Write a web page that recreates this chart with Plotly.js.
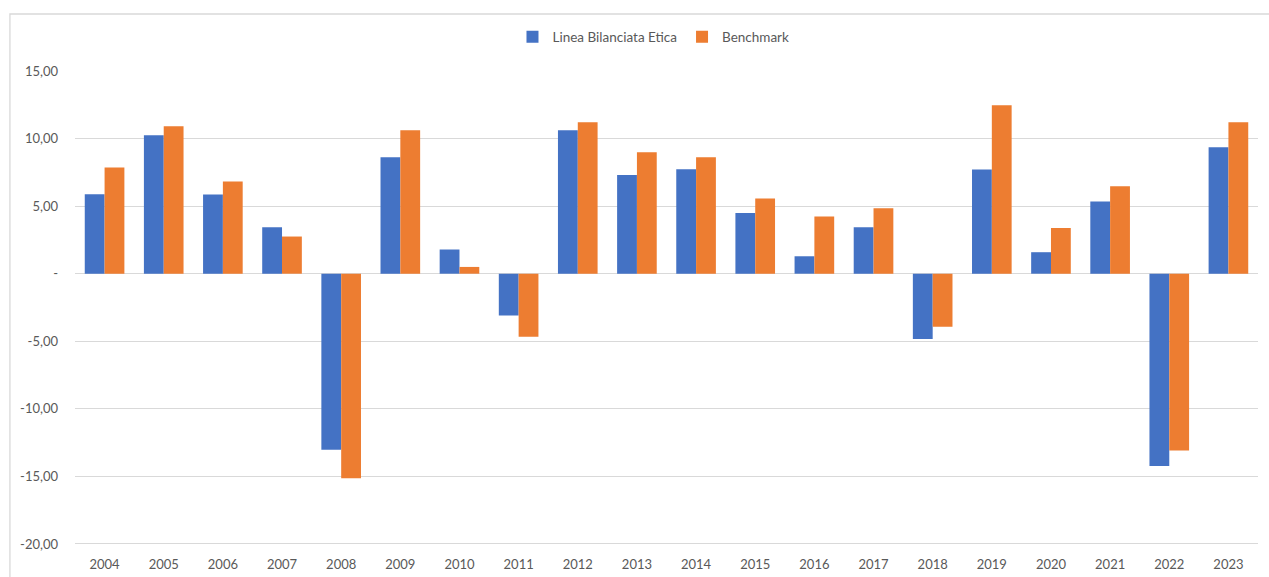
<!DOCTYPE html>
<html>
<head>
<meta charset="utf-8">
<script src="https://cdn.plot.ly/plotly-3.0.1.min.js"></script>
<style>html,body{margin:0;padding:0;background:#fff;}#chart{width:1269px;height:577px;}</style>
</head>
<body>
<div id="chart"></div>
<script>
const years = ['2004','2005','2006','2007','2008','2009','2010','2011','2012','2013','2014','2015','2016','2017','2018','2019','2020','2021','2022','2023'];
const lineaEtica = [5.88,10.24,5.86,3.44,-13.03,8.62,1.79,-3.09,10.61,7.31,7.73,4.50,1.29,3.44,-4.84,7.71,1.59,5.34,-14.24,9.36];
const benchmark = [7.85,10.91,6.82,2.75,-15.13,10.61,0.50,-4.67,11.21,8.99,8.62,5.56,4.23,4.84,-3.93,12.46,3.39,6.47,-13.08,11.21];
const seriesNames = ['Linea Bilanciata Etica','Benchmark'];
const yTickVals = [-20,-15,-10,-5,0,5,10,15];
const yTickText = ['-20,00','-15,00','-10,00','-5,00','-','5,00','10,00','15,00'];

const font = "Lato, 'Open Sans', sans-serif";
const traces = [
  {type:'bar', name:seriesNames[0], x:years, y:lineaEtica, marker:{color:'#4472C4'}},
  {type:'bar', name:seriesNames[1], x:years, y:benchmark, marker:{color:'#ED7D31'}}
];
const plotH = 577 - 71 - 29;
const layout = {
  width:1269, height:577,
  margin:{l:75, r:11, t:71, b:29, pad:0},
  paper_bgcolor:'#fff', plot_bgcolor:'#fff',
  font:{family:font, size:13, color:'#595959'},
  barmode:'group', bargap:0.33, bargroupgap:0,
  showlegend:true,
  legend:{orientation:'h', x:0.489, xanchor:'center', y:(577-29-37)/plotH, yanchor:'middle', font:{size:13.5, color:'#595959'}, itemwidth:30, traceorder:'normal'},
  xaxis:{type:'category', showgrid:false, zeroline:false, showline:false, ticks:'', ticklabelstandoff:7, tickfont:{size:13, color:'#595959'}},
  yaxis:{range:[-20.3,15], tickvals:yTickVals, ticktext:yTickText, showgrid:true, gridcolor:'#d9d9d9', gridwidth:1, zeroline:true, zerolinecolor:'#d9d9d9', zerolinewidth:1, showline:false, ticks:'', ticklabelstandoff:16, tickfont:{size:13, color:'#595959'}},
  shapes:[{type:'rect', xref:'paper', yref:'paper', x0:-0.055, x1:1.02, y0:-0.2, y1:(577-29-14)/plotH, line:{color:'#d9d9d9', width:1.3}, fillcolor:'rgba(0,0,0,0)', layer:'below'}]
};
Plotly.newPlot('chart', traces, layout, {displayModeBar:false, staticPlot:true});
</script>
</body>
</html>
